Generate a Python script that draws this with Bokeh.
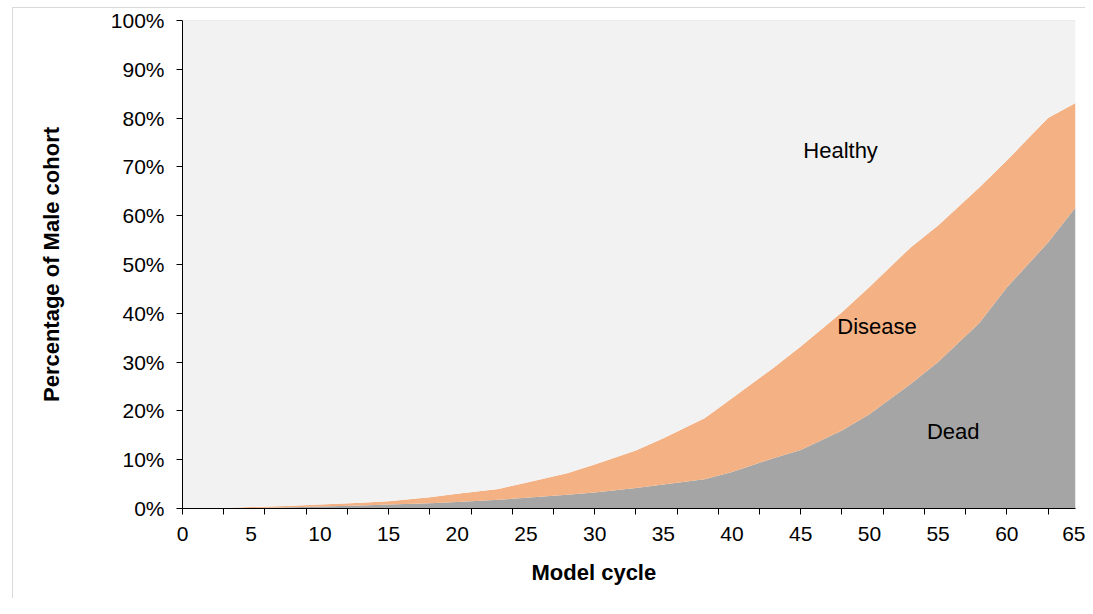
from bokeh.plotting import figure
from bokeh.models import Range1d, FixedTicker, PrintfTickFormatter, Label, Span, ColumnDataSource, Title
from bokeh.embed import file_html
from bokeh.resources import INLINE

cycles = [0, 3, 5, 8, 10, 13, 15, 18, 20, 23, 25, 28, 30, 33, 35, 38, 40, 43, 45, 48, 50, 53, 55, 58, 60, 63, 65]
dead = [0, 0.05, 0.1, 0.25, 0.4, 0.6, 0.8, 1.1, 1.35, 1.8, 2.2, 2.8, 3.3, 4.2, 4.9, 6.0, 7.5, 10.3, 12.0, 16.0, 19.3, 25.5, 30.0, 38.0, 45.3, 54.5, 61.7]
disease = [0, 0.05, 0.2, 0.3, 0.4, 0.6, 0.7, 1.2, 1.65, 2.2, 3.1, 4.4, 5.7, 7.7, 9.5, 12.5, 15.1, 18.5, 21.2, 24.2, 26.1, 28.0, 28.0, 27.8, 26.0, 25.5, 21.4]
healthy = [100 - a - b for a, b in zip(dead, disease)]

x_label_ticks = [0, 5, 10, 15, 20, 25, 30, 35, 40, 45, 50, 55, 60, 65]
x_mark_ticks = [0, 3, 6, 9, 12, 15, 18, 21, 24, 27, 30, 33, 36, 39, 42, 45, 48, 51, 54, 57, 60, 63]
y_ticks = [0, 10, 20, 30, 40, 50, 60, 70, 80, 90, 100]

FONT = "Liberation Sans"

src = ColumnDataSource(dict(x=cycles, Dead=dead, Disease=disease, Healthy=healthy))

p = figure(width=1085, height=598, output_backend="svg", toolbar_location=None,
           x_range=Range1d(0, 65), y_range=Range1d(0, 100),
           min_border_left=182, min_border_right=10, min_border_top=20, min_border_bottom=90)
p.border_fill_color = None
p.styles = {
    "background-color": "white",
    "background-image": "linear-gradient(#d9d9d9, #d9d9d9), linear-gradient(#d9d9d9, #d9d9d9)",
    "background-size": "1px 100%, 100% 1px",
    "background-position": "12px 7px, 12px 7px",
    "background-repeat": "no-repeat",
}

p.varea_stack(stackers=["Dead", "Disease", "Healthy"], x="x", source=src,
              color=["#A5A5A5", "#F4B183", "#F2F2F2"])

p.add_layout(Span(location=100, dimension="width", line_color="#d9d9d9", line_width=1))

p.grid.visible = False
p.outline_line_color = None
p.background_fill_color = "white"

xa = p.xaxis[0]
xa.ticker = FixedTicker(ticks=x_label_ticks, minor_ticks=x_mark_ticks)
xa.major_tick_out = 0
xa.major_tick_in = 0
xa.minor_tick_out = 6
xa.minor_tick_in = 0
xa.minor_tick_line_color = "black"
xa.axis_line_color = "black"
xa.major_label_standoff = 12
xa.major_label_text_font = FONT
xa.major_label_text_font_size = "21px"
xa.major_label_text_color = "black"

ya = p.yaxis[0]
ya.ticker = FixedTicker(ticks=y_ticks)
ya.formatter = PrintfTickFormatter(format="%d%%")
ya.major_tick_out = 6
ya.major_tick_in = 0
ya.minor_tick_line_color = None
ya.major_tick_line_color = "black"
ya.axis_line_color = "black"
ya.major_label_standoff = 12
ya.major_label_text_font = FONT
ya.major_label_text_font_size = "21px"
ya.major_label_text_color = "black"
ya.axis_label = "Percentage of Male cohort"
ya.axis_label_text_font = FONT
ya.axis_label_text_font_size = "22px"
ya.axis_label_text_font_style = "bold"
ya.axis_label_text_color = "black"
ya.axis_label_standoff = 44

p.add_layout(Title(text="Model cycle", align="left", offset=349, standoff=28,
                   text_font=FONT, text_font_size="22px", text_font_style="bold",
                   text_color="black"), "below")

for tx, ty, t in [(47.9, 73.4, "Healthy"), (50.55, 37.2, "Disease"), (56.1, 15.7, "Dead")]:
    p.add_layout(Label(x=tx, y=ty, text=t, text_align="center", text_baseline="alphabetic",
                       text_font=FONT, text_font_size="22px", text_color="black"))

open("out.html", "w").write(file_html(p, INLINE))
